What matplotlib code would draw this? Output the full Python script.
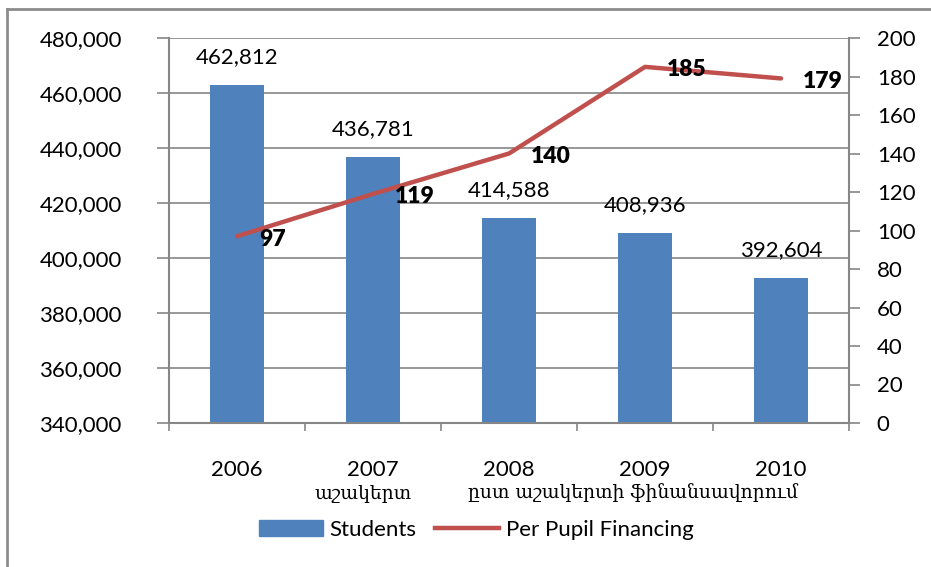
import matplotlib.pyplot as plt
from matplotlib.lines import Line2D
from matplotlib.patches import Patch
from matplotlib.ticker import FuncFormatter, FixedLocator

plt.rcParams['font.family'] = ['Lato', 'DejaVu Sans']

years = ['2006', '2007', '2008', '2009', '2010']
students = [462812, 436781, 414588, 408936, 392604]
per_pupil = [97, 119, 140, 185, 179]
arm_labels = ['աշակերտ', 'ըստ աշակերտի ֆինանսավորում']
legend_labels = ['Students', 'Per Pupil Financing']

bar_color = '#4F81BD'
line_color = '#C0504D'
axis_gray = '#868686'
fs = 16

fig = plt.figure(figsize=(9.31, 5.67), dpi=100)
ax = fig.add_axes([169/931, 1-423/567, (849-169)/931, (423-38)/567])
x = list(range(len(years)))

ax.bar(x, students, width=0.4, color=bar_color, zorder=2)
ax.set_ylim(340000, 480000)
ax.set_xlim(-0.5, 4.5)
ax.set_yticks(range(340000, 480001, 20000))
ax.yaxis.set_major_formatter(FuncFormatter(lambda v, p: f'{int(v):,}'))
ax.set_xticks(x)
ax.set_xticklabels(years)
ax.xaxis.set_minor_locator(FixedLocator([i - 0.5 for i in range(len(years) + 1)]))
ax.tick_params(axis='x', which='major', length=0, pad=27, labelsize=fs)
ax.tick_params(axis='x', which='minor', length=6, color=axis_gray, width=1.2)
ax.tick_params(axis='y', length=9, color=axis_gray, width=1.2, pad=25, labelsize=fs)
ax.grid(axis='y', color=axis_gray, lw=1.2, zorder=0)
ax.set_axisbelow(True)
for s in ['top', 'right']:
    ax.spines[s].set_visible(False)
for s in ['left', 'bottom']:
    ax.spines[s].set_color(axis_gray)
    ax.spines[s].set_linewidth(1.5)

for xi, v in zip(x, students):
    ax.annotate(f'{v:,}', (xi, v), xytext=(0, 18), textcoords='offset pixels',
                ha='center', va='bottom', fontsize=fs)

ax2 = ax.twinx()
ax2.plot(x, per_pupil, color=line_color, lw=3.2, solid_capstyle='round', zorder=3)
ax2.set_ylim(0, 200)
ax2.set_yticks(range(0, 201, 20))
ax2.tick_params(axis='y', length=8, color=axis_gray, width=1.2, pad=12, labelsize=fs)
for s in ['top', 'left', 'bottom']:
    ax2.spines[s].set_visible(False)
ax2.spines['right'].set_color(axis_gray)
ax2.spines['right'].set_linewidth(1.5)

for xi, v in zip(x, per_pupil):
    ax2.annotate(str(v), (xi, v), xytext=(22, -3), textcoords='offset pixels',
                 ha='left', va='center', fontsize=16.5, fontweight='heavy')

fig.text(363/931, 1-493/567, arm_labels[0], ha='center', va='center',
         fontsize=13.5, family=['DejaVu Serif', 'DejaVu Sans'])
fig.text(633/931, 1-493/567, arm_labels[1], ha='center', va='center',
         fontsize=13.5, family=['DejaVu Serif', 'DejaVu Sans'])

handles = [Patch(color=bar_color), Line2D([0], [0], color=line_color, lw=3.2)]
fig.legend(handles, legend_labels, loc='center', bbox_to_anchor=(476/931, 1-530/567),
           ncol=2, frameon=False, fontsize=fs, handlelength=2.9, handleheight=0.75,
           handletextpad=0.3, columnspacing=0.8)

fig.add_artist(Line2D([7/931, 7/931], [0, 1-9/567], color='#8c8c8c', lw=2,
                      transform=fig.transFigure))
fig.add_artist(Line2D([7/931, 1], [1-9/567, 1-9/567], color='#8c8c8c', lw=2,
                      transform=fig.transFigure))

fig.savefig('out.png', dpi=100)
